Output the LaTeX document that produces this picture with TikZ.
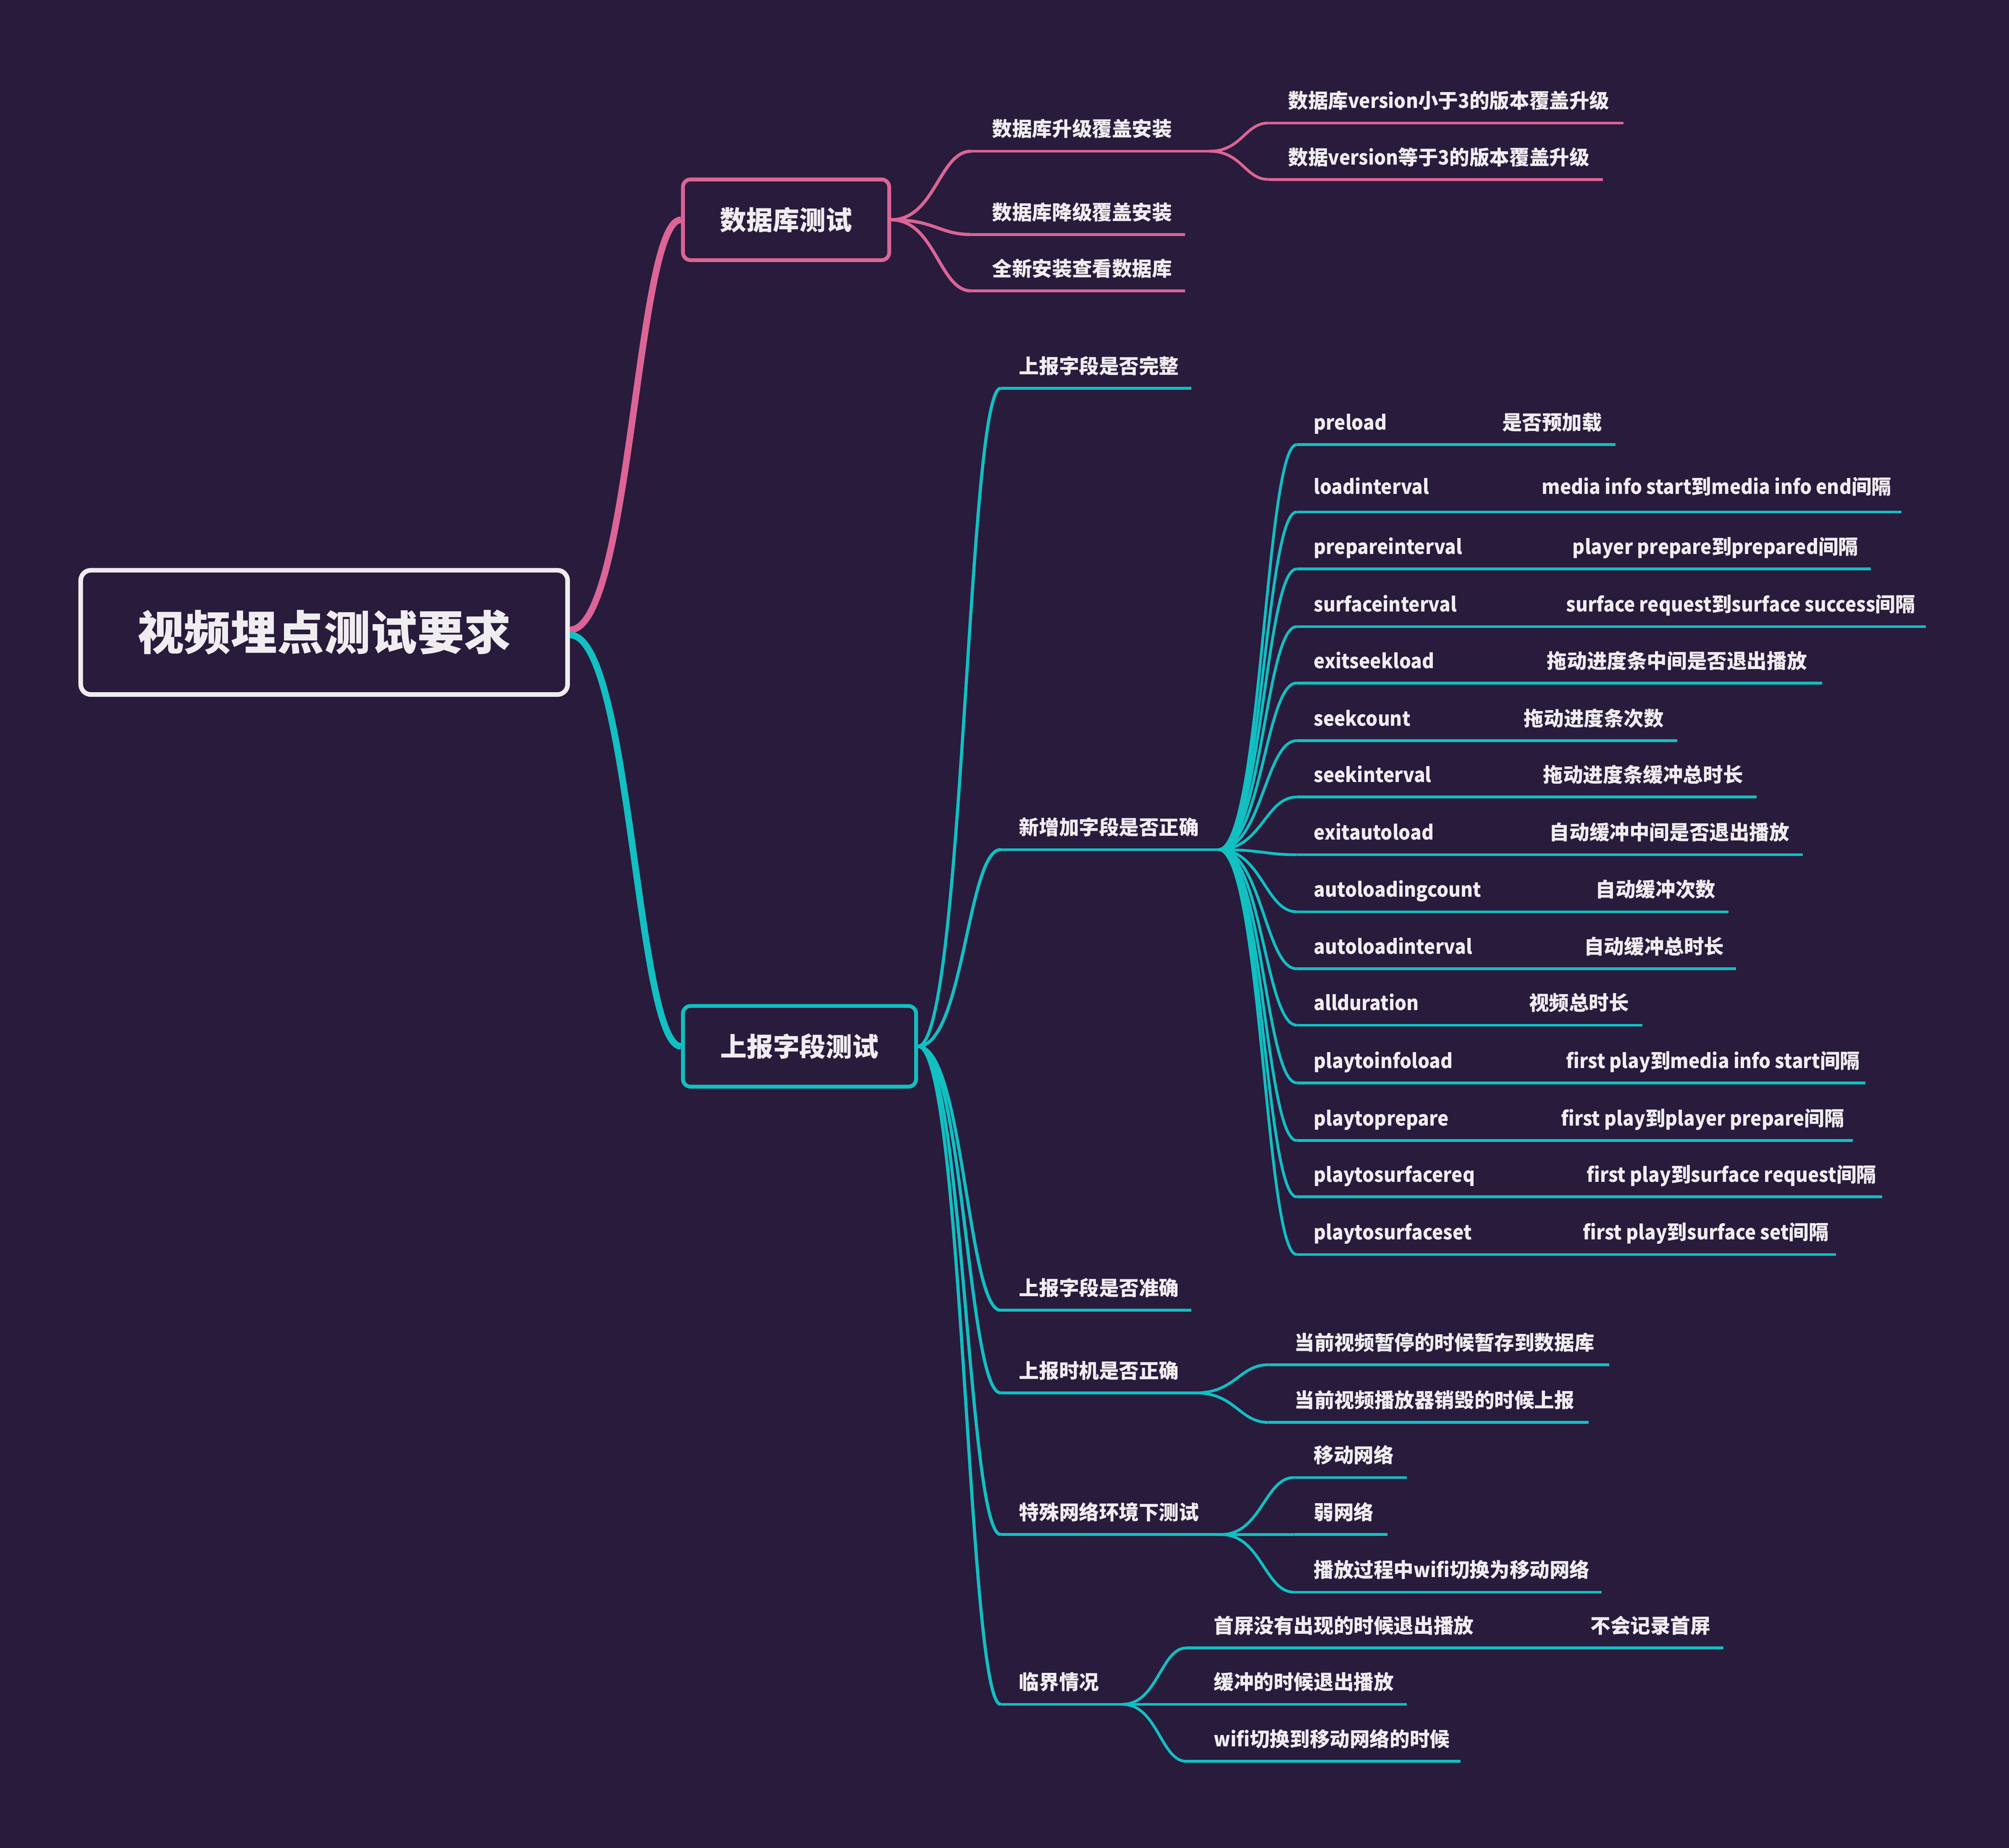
\documentclass[tikz,border=0pt]{standalone}
\usepackage{fontspec}
\setmainfont{Noto Sans CJK SC}
\newfontfamily\latf{Noto Sans CJK SC}[FakeStretch=0.93]
\newcommand\lt[1]{{\latf #1}}
\usetikzlibrary{calc}
\definecolor{bg}{HTML}{281B3C}
\definecolor{pk}{HTML}{DC6496}
\definecolor{tl}{HTML}{12BFC1}
\definecolor{tx}{HTML}{F0EDF0}
\newcommand\crv[3]{\draw[#1] (#2) .. controls ($(#2)!0.55!(#2 -| #3)$) and ($(#3 -| #2)!0.6!(#3)$) .. (#3);}
\newcommand\br[7]{%
  \coordinate (#1s) at (#3,#5);
  \coordinate (#1e) at (#4,#5);
  \node[lbl] (#1) at (#6,#5-11.5) {#7};
  \draw[#2] (#1s) -- (#1e);}
\begin{document}
\begin{tikzpicture}[x=0.5pt,y=-0.5pt,
  lbl/.style={anchor=base west,inner sep=0pt,text=tx,font=\fontsize{7.8}{9}\selectfont\bfseries},
  pline/.style={draw=pk,line width=1.1pt},
  tline/.style={draw=tl,line width=1.1pt},
  pmain/.style={draw=pk,line width=1.25pt},
  tmain/.style={draw=tl,line width=1.25pt},
  proot/.style={draw=pk,line width=2.6pt},
  troot/.style={draw=tl,line width=2.6pt},
  box/.style={draw,line width=1.5pt,rounded corners=3pt,fill=bg,text=tx,inner sep=0pt,minimum height=31.5pt,font=\fontsize{10.3}{12}\selectfont\bfseries}]
\fill[bg] (0,0) rectangle (1568,1442);
\useasboundingbox (0,0) rectangle (1568,1442);

% main nodes
\node[box,draw=tx,line width=1.8pt,rounded corners=4pt,minimum width=190pt,minimum height=48.5pt,font=\fontsize{18.2}{20}\selectfont\bfseries] (R) at (253,493.5) {视频埋点测试要求};
\node[box,draw=pk,minimum width=80.5pt] (DB) at (613.5,171.5) {数据库测试};
\node[box,draw=tl,minimum width=91pt] (UP) at (624,816.5) {上报字段测试};

\coordinate (Rp) at ($(R.east)+(0,-2)$);
\coordinate (Rt) at ($(R.east)+(0,2)$);
\crv{proot}{Rp}{DB.west}
\crv{troot}{Rt}{UP.west}

% database branch
\br{d1}{pline}{758}{944}{118}{774}{数据库升级覆盖安装}
\br{d11}{pline}{990}{1267}{96}{1005}{数据库\lt{version}小于\lt{3}的版本覆盖升级}
\br{d12}{pline}{990}{1251}{140}{1005}{数据\lt{version}等于\lt{3}的版本覆盖升级}
\br{d2}{pline}{758}{925}{183}{774}{数据库降级覆盖安装}
\br{d3}{pline}{758}{925}{227}{774}{全新安装查看数据库}
\crv{pmain}{DB.east}{d1s}
\crv{pmain}{DB.east}{d2s}
\crv{pmain}{DB.east}{d3s}
\crv{pline}{d1e}{d11s}
\crv{pline}{d1e}{d12s}

% report branch
\br{u1}{tline}{781}{930}{303}{795}{上报字段是否完整}
\br{u2}{tline}{781}{951}{663}{795}{新增加字段是否正确}
\br{u3}{tline}{781}{930}{1022.5}{795}{上报字段是否准确}
\br{u4}{tline}{781}{933}{1087}{795}{上报时机是否正确}
\br{u41}{tline}{990}{1256}{1065}{1010}{当前视频暂停的时候暂存到数据库}
\br{u42}{tline}{990}{1240}{1110}{1010}{当前视频播放器销毁的时候上报}
\br{u5}{tline}{781}{953}{1197.5}{795}{特殊网络环境下测试}
\br{u51}{tline}{1010}{1098}{1153}{1025}{移动网络}
\br{u52}{tline}{1010}{1083}{1197.5}{1025}{弱网络}
\br{u53}{tline}{1010}{1250}{1242.5}{1025}{播放过程中\lt{wifi}切换为移动网络}
\br{u6}{tline}{781}{876}{1330}{795}{临界情况}
\br{u61}{tline}{926}{1345}{1286}{947}{首屏没有出现的时候退出播放}
\node[lbl] (u61b) at (1241,1286-11.5) {不会记录首屏};
\br{u62}{tline}{926}{1098}{1330}{947}{缓冲的时候退出播放}
\br{u63}{tline}{926}{1140}{1374.5}{947}{\lt{wifi}切换到移动网络的时候}
\foreach \c in {u1,u2,u3,u4,u5,u6} {\crv{tmain}{UP.east}{\c s}}
\crv{tline}{u4e}{u41s}
\crv{tline}{u4e}{u42s}
\crv{tline}{u5e}{u51s}
\crv{tline}{u5e}{u52s}
\crv{tline}{u5e}{u53s}
\crv{tline}{u6e}{u61s}
\crv{tline}{u6e}{u62s}
\crv{tline}{u6e}{u63s}

% new fields
\foreach \n/\y/\o/\a/\xb/\b/\xe in {
  f1/347/0/preload/1172/{是否预加载}/1261,
  f2/399.5/2.5/loadinterval/1203/{\lt{media info start}到\lt{media info end}间隔}/1484,
  f3/444/0/prepareinterval/1227/{\lt{player prepare}到\lt{prepared}间隔}/1460,
  f4/489/0/surfaceinterval/1222/{\lt{surface request}到\lt{surface success}间隔}/1503,
  f5/533/0/exitseekload/1207/{拖动进度条中间是否退出播放}/1422,
  f6/578/0/seekcount/1189/{拖动进度条次数}/1309,
  f7/622/0/seekinterval/1204/{拖动进度条缓冲总时长}/1371,
  f8/667/0/exitautoload/1209/{自动缓冲中间是否退出播放}/1407,
  f9/711.5/0/autoloadingcount/1245/{自动缓冲次数}/1349,
  f10/756/0/autoloadinterval/1236/{自动缓冲总时长}/1355,
  f11/800/0/allduration/1193/{视频总时长}/1282,
  f12/845/0/playtoinfoload/1222/{\lt{first play}到\lt{media info start}间隔}/1456,
  f13/890/0/playtoprepare/1218/{\lt{first play}到\lt{player prepare}间隔}/1446,
  f14/934/0/playtosurfacereq/1238/{\lt{first play}到\lt{surface request}间隔}/1469,
  f15/979/0/playtosurfaceset/1235/{\lt{first play}到\lt{surface set}间隔}/1433} {
  \coordinate (\n s) at (1012,\y);
  \coordinate (\n e) at (\xe,\y);
  \node[lbl] (\n) at (1025,\y-11.5-\o) {\lt{\a}};
  \node[lbl] (\n b) at (\xb,\y-11.5-\o) {\b};
  \draw[tline] (\n s) -- (\n e);
  \crv{tline}{u2e}{\n s}
}
\end{tikzpicture}
\end{document}
